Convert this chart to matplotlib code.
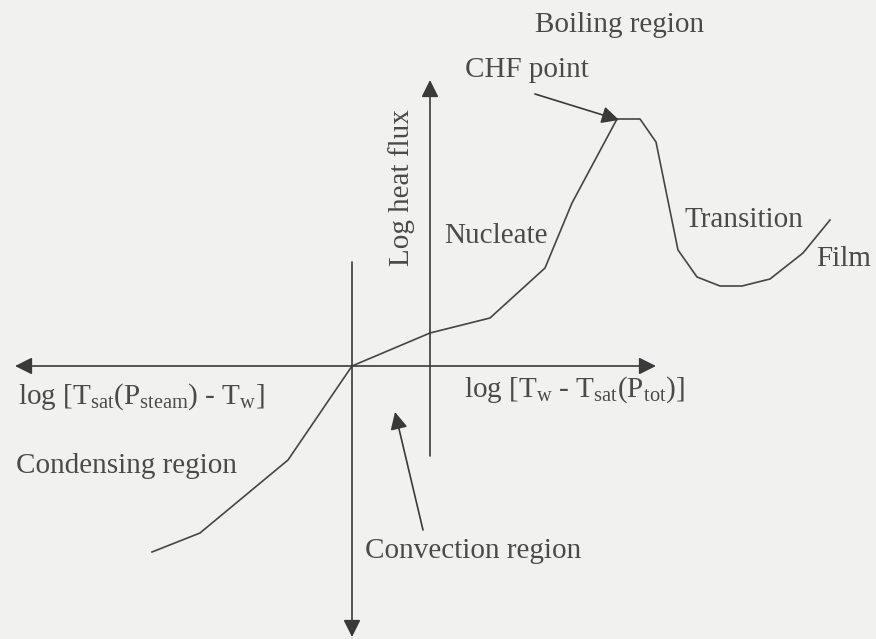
import matplotlib.pyplot as plt
import numpy as np

plt.rcParams['font.family'] = ['Liberation Serif', 'DejaVu Serif']
plt.rcParams['mathtext.fontset'] = 'custom'
plt.rcParams['mathtext.rm'] = 'Liberation Serif'
plt.rcParams['mathtext.it'] = 'Liberation Serif:italic'

# boiling / condensing curve, drawn in figure pixel units (y grows downward)
curve_x = [152, 200, 288, 352, 430, 490, 545, 572, 617, 640, 656, 678, 697, 720, 742, 770, 803, 830]
curve_y = [552, 533, 460, 366, 333, 318, 268, 203, 119, 119, 142, 250, 277, 286, 286, 279, 253, 220]

# axes and pointer arrows: (x0, y0, x1, y1), head at (x1, y1)
x_axis_left = (352, 366, 15, 366)
x_axis_right = (352, 366, 656, 366)
y_axis_down = (352, 262, 352, 637)
flux_arrow = (430, 456, 430, 80)
chf_arrow = (535, 94, 619, 120)
conv_arrow = (423, 530, 395, 412)

labels = [
    ('Boiling region', 620, 25, 0),
    ('CHF point', 527, 70, 0),
    ('Log heat flux', 402, 188, 90),
    ('Nucleate', 496, 236, 0),
    ('Transition', 744, 220, 0),
    ('Film', 844, 259, 0),
    (r'log [T$_{\mathrm{sat}}$(P$_{\mathrm{steam}}$) - T$_{\mathrm{w}}$]', 141, 397, 0),
    (r'log [T$_{\mathrm{w}}$ - T$_{\mathrm{sat}}$(P$_{\mathrm{tot}}$)]', 574, 390, 0),
    ('Condensing region', 127, 466, 0),
    ('Convection region', 473, 551, 0),
]

ink = '#3a3a3a'
fig = plt.figure(figsize=(8.76, 6.39), dpi=100)
fig.patch.set_facecolor('#f1f1ef')
ax = fig.add_axes([0, 0, 1, 1])
ax.set_facecolor('#f1f1ef')
ax.set_xlim(0, 876)
ax.set_ylim(639, 0)
ax.axis('off')

ax.plot(curve_x, curve_y, color='#454545', lw=1.2)

def arrow(seg, head=True):
    x0, y0, x1, y1 = seg
    ax.annotate('', xy=(x1, y1), xytext=(x0, y0),
                arrowprops=dict(arrowstyle='-|>' if head else '-', color=ink,
                                lw=1.2, mutation_scale=26, shrinkA=0, shrinkB=0))

for seg in [x_axis_left, x_axis_right, y_axis_down, flux_arrow, chf_arrow, conv_arrow]:
    arrow(seg)

for txt, x, y, rot in labels:
    ax.text(x, y, txt, fontsize=21, color='#4a4a4a', ha='center', va='center', rotation=rot)

fig.savefig('out.png', dpi=100, facecolor=fig.get_facecolor())
